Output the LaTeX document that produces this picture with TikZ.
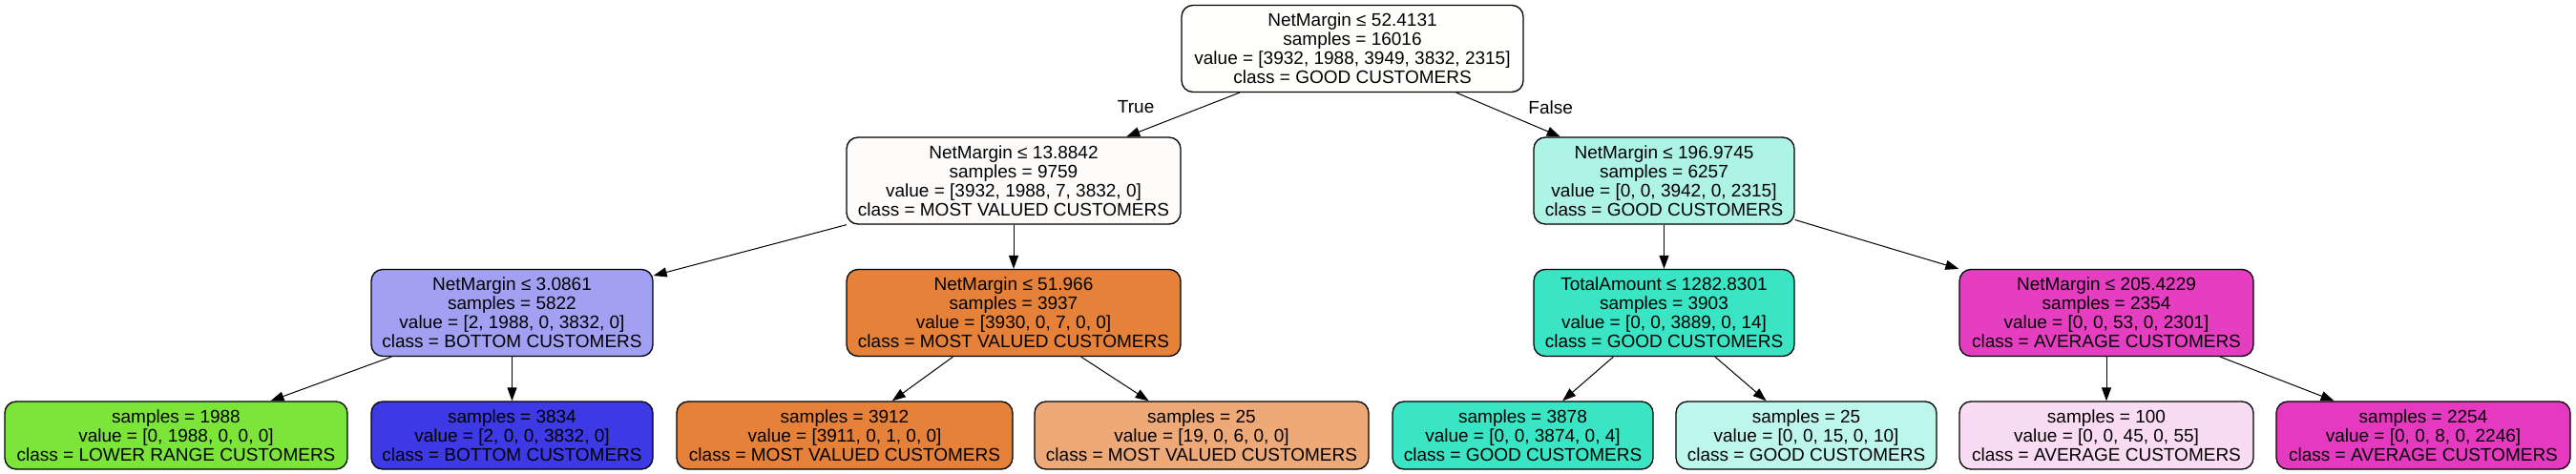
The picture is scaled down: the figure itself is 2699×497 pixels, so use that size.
\documentclass[tikz,border=0pt]{standalone}
\usepackage{fontspec}
\setmainfont{Liberation Sans}
\usetikzlibrary{arrows.meta,positioning}

\definecolor{rootfill}{HTML}{FFFFFE}
\definecolor{valuedpale}{HTML}{FEFCFA}
\definecolor{valuedfull}{HTML}{E58139}
\definecolor{valuedlight}{HTML}{EDA978}
\definecolor{lowerfull}{HTML}{7BE539}
\definecolor{bottompale}{HTML}{A1A0F2}
\definecolor{bottomfull}{HTML}{3C39E5}
\definecolor{goodpale}{HTML}{ADF4E7}
\definecolor{goodfull}{HTML}{39E5C5}
\definecolor{goodlight}{HTML}{BDF6EC}
\definecolor{averagefull}{HTML}{E539C0}
\definecolor{averagedeep}{HTML}{E63EC1}
\definecolor{averagepale}{HTML}{FADBF4}

\begin{document}
\begin{tikzpicture}
[->,>={Triangle[length=7pt,width=5pt]}, x=0.5pt, y=-0.5pt,
line width=0.5pt,
every node/.style={font=\fontsize{9.5}{10}\selectfont},
split/.style={draw, line width=0.65pt, rounded corners=6pt, align=center,
  inner sep=0pt, minimum height=45.5pt},
leaf/.style={split, minimum height=35.5pt}
]
  \useasboundingbox (0,0) rectangle (2699,497);

  % depth 0 and 1
  \node[split, fill=rootfill, minimum width=179pt]    (root) at (1417,51)
    {NetMargin ≤ 52.4131\\samples = 16016\\value = [3932, 1988, 3949, 3832, 2315]\\class = GOOD CUSTOMERS};
  \node[split, fill=valuedpale, minimum width=175pt]  (nm1) at (1062,189.5)
    {NetMargin ≤ 13.8842\\samples = 9759\\value = [3932, 1988, 7, 3832, 0]\\class = MOST VALUED CUSTOMERS};
  \node[split, fill=goodpale, minimum width=136.5pt]  (nm2) at (1743.5,189.5)
    {NetMargin ≤ 196.9745\\samples = 6257\\value = [0, 0, 3942, 0, 2315]\\class = GOOD CUSTOMERS};

  % depth 2
  \node[split, fill=bottompale, minimum width=147.5pt]  (nm3) at (536.5,328)
    {NetMargin ≤ 3.0861\\samples = 5822\\value = [2, 1988, 0, 3832, 0]\\class = BOTTOM CUSTOMERS};
  \node[split, fill=valuedfull, minimum width=175pt]    (nm4) at (1062,328)
    {NetMargin ≤ 51.966\\samples = 3937\\value = [3930, 0, 7, 0, 0]\\class = MOST VALUED CUSTOMERS};
  \node[split, fill=goodfull, minimum width=136.5pt]    (ta1) at (1743.5,328)
    {TotalAmount ≤ 1282.8301\\samples = 3903\\value = [0, 0, 3889, 0, 14]\\class = GOOD CUSTOMERS};
  \node[split, fill=averagedeep, minimum width=154pt]   (nm5) at (2207,328)
    {NetMargin ≤ 205.4229\\samples = 2354\\value = [0, 0, 53, 0, 2301]\\class = AVERAGE CUSTOMERS};

  % leaves
  \node[leaf, fill=lowerfull, minimum width=179.5pt]  (lf1) at (184.5,456.5)
    {samples = 1988\\value = [0, 1988, 0, 0, 0]\\class = LOWER RANGE CUSTOMERS};
  \node[leaf, fill=bottomfull, minimum width=147.5pt] (lf2) at (536.5,456.5)
    {samples = 3834\\value = [2, 0, 0, 3832, 0]\\class = BOTTOM CUSTOMERS};
  \node[leaf, fill=valuedfull, minimum width=176pt]   (lf3) at (885,456.5)
    {samples = 3912\\value = [3911, 0, 1, 0, 0]\\class = MOST VALUED CUSTOMERS};
  \node[leaf, fill=valuedlight, minimum width=175pt]  (lf4) at (1259,456.5)
    {samples = 25\\value = [19, 0, 6, 0, 0]\\class = MOST VALUED CUSTOMERS};
  \node[leaf, fill=goodfull, minimum width=136.5pt]   (lf5) at (1595.5,456.5)
    {samples = 3878\\value = [0, 0, 3874, 0, 4]\\class = GOOD CUSTOMERS};
  \node[leaf, fill=goodlight, minimum width=136.5pt]  (lf6) at (1892.5,456.5)
    {samples = 25\\value = [0, 0, 15, 0, 10]\\class = GOOD CUSTOMERS};
  \node[leaf, fill=averagepale, minimum width=154pt]  (lf7) at (2207,456.5)
    {samples = 100\\value = [0, 0, 45, 0, 55]\\class = AVERAGE CUSTOMERS};
  \node[leaf, fill=averagefull, minimum width=154pt]  (lf8) at (2539,456.5)
    {samples = 2254\\value = [0, 0, 8, 0, 2246]\\class = AVERAGE CUSTOMERS};

  \path (root) edge node[midway, left=11.5pt, yshift=4pt] {True} (nm1)
        (root) edge node[midway, right=7pt, yshift=4pt] {False} (nm2)
        (nm1) edge (nm3)
        (nm1) edge (nm4)
        (nm2) edge (ta1)
        (nm2) edge (nm5)
        (nm3) edge (lf1)
        (nm3) edge (lf2)
        (nm4) edge (lf3)
        (nm4) edge (lf4)
        (ta1) edge (lf5)
        (ta1) edge (lf6)
        (nm5) edge (lf7)
        (nm5) edge (lf8);
\end{tikzpicture}
\end{document}
